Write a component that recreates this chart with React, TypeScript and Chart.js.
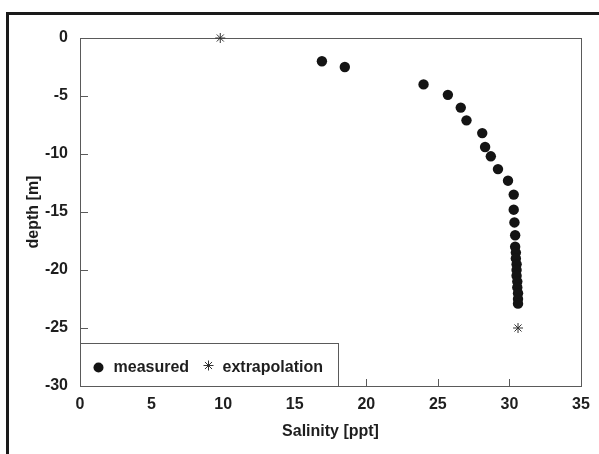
import React, { useEffect, useRef } from "react";
import { Chart, registerables } from "chart.js";

Chart.register(...registerables);

const measuredSalinity = [16.9, 18.5, 24.0, 25.7, 26.6, 27.0, 28.1, 28.3, 28.7, 29.2, 29.9, 30.3, 30.3, 30.35, 30.4, 30.4, 30.45, 30.45, 30.5, 30.5, 30.5, 30.55, 30.55, 30.6, 30.6, 30.6];
const measuredDepth = [-2.0, -2.5, -4.0, -4.9, -6.0, -7.1, -8.2, -9.4, -10.2, -11.3, -12.3, -13.5, -14.8, -15.9, -17.0, -18.0, -18.5, -19.0, -19.5, -20.0, -20.5, -21.0, -21.5, -22.0, -22.5, -22.9];
const extrapSalinity = [9.8, 30.6];
const extrapDepth = [0, -25];
const xTicks = [0, 5, 10, 15, 20, 25, 30, 35];
const yTicks = [0, -5, -10, -15, -20, -25, -30];
const seriesLabels = ["measured", "extrapolation"];
const xTitle = "Salinity [ppt]";
const yTitle = "depth [m]";

const FONT = "'Liberation Sans', Arial, Helvetica, sans-serif";
const INK = "#1e1e1e";
const LINE = "#5a5a5a";

export default function App() {
  const ref = useRef<HTMLCanvasElement>(null);

  useEffect(() => {
    document.body.style.margin = "0";
    const canvas = ref.current;
    if (!canvas) return;

    const framePlugin = {
      id: "frame",
      beforeDraw(chart: any) {
        const ctx = chart.ctx;
        ctx.save();
        ctx.fillStyle = "#ffffff";
        ctx.fillRect(0, 0, chart.width, chart.height);
        ctx.strokeStyle = "#1a1a1a";
        ctx.lineWidth = 3;
        ctx.beginPath();
        ctx.moveTo(7.5, chart.height);
        ctx.lineTo(7.5, 13.5);
        ctx.lineTo(chart.width, 13.5);
        ctx.stroke();
        ctx.restore();
      },
      beforeDatasetsDraw(chart: any) {
        const ctx = chart.ctx;
        const a = chart.chartArea;
        const xs = chart.scales.x;
        const ys = chart.scales.y;
        ctx.save();
        ctx.strokeStyle = LINE;
        ctx.lineWidth = 1;
        ctx.strokeRect(Math.round(a.left) + 0.5, Math.round(a.top) + 0.5, Math.round(a.right - a.left), Math.round(a.bottom - a.top));
        ctx.beginPath();
        xTicks.forEach((v) => {
          const px = Math.round(xs.getPixelForValue(v)) + 0.5;
          ctx.moveTo(px, a.bottom);
          ctx.lineTo(px, a.bottom - 7);
        });
        yTicks.forEach((v) => {
          const py = Math.round(ys.getPixelForValue(v)) + 0.5;
          ctx.moveTo(a.left, py);
          ctx.lineTo(a.left + 8, py);
        });
        ctx.stroke();
        ctx.restore();
      },
      afterDatasetsDraw(chart: any) {
        const ctx = chart.ctx;
        const a = chart.chartArea;
        const boxW = 258;
        const boxH = 43;
        const left = Math.round(a.left) + 0.5;
        const top = Math.round(a.bottom - boxH) + 0.5;
        ctx.save();
        ctx.fillStyle = "#ffffff";
        ctx.fillRect(left, top, boxW, boxH);
        ctx.strokeStyle = LINE;
        ctx.lineWidth = 1;
        ctx.strokeRect(left, top, boxW, boxH);
        const cy = top + 24;
        const ds0 = chart.data.datasets[0];
        const ds1 = chart.data.datasets[1];
        // measured symbol
        ctx.fillStyle = ds0.backgroundColor;
        ctx.beginPath();
        ctx.arc(left + 18, cy, 5, 0, Math.PI * 2);
        ctx.fill();
        // star symbol
        ctx.strokeStyle = ds1.borderColor;
        ctx.lineWidth = 1;
        const sx = left + 128;
        const r = 5;
        ctx.beginPath();
        for (let i = 0; i < 4; i++) {
          const ang = (i * Math.PI) / 4;
          ctx.moveTo(sx + r * Math.cos(ang), cy - 2 + r * Math.sin(ang));
          ctx.lineTo(sx - r * Math.cos(ang), cy - 2 - r * Math.sin(ang));
        }
        ctx.stroke();
        ctx.fillStyle = INK;
        ctx.font = `bold 16px ${FONT}`;
        ctx.textBaseline = "middle";
        ctx.textAlign = "left";
        ctx.fillText(ds0.label, left + 33, cy);
        ctx.fillText(ds1.label, left + 142, cy);
        ctx.restore();
      },
    };

    const chart = new Chart(canvas, {
      type: "scatter",
      data: {
        datasets: [
          {
            label: seriesLabels[0],
            data: measuredSalinity.map((x, i) => ({ x, y: measuredDepth[i] })),
            backgroundColor: "#141414",
            borderColor: "#141414",
            pointRadius: 5.2,
            pointStyle: "circle",
            borderWidth: 0,
            clip: false,
          },
          {
            label: seriesLabels[1],
            data: extrapSalinity.map((x, i) => ({ x, y: extrapDepth[i] })),
            backgroundColor: "#333333",
            borderColor: "#333333",
            pointRadius: 5,
            pointStyle: "star",
            borderWidth: 1,
            clip: false,
          },
        ],
      },
      options: {
        animation: false,
        responsive: false,
        maintainAspectRatio: false,
        layout: { padding: { left: 0, top: 38, right: 18, bottom: 0 } },
        plugins: {
          legend: { display: false },
          tooltip: { enabled: false },
        },
        scales: {
          x: {
            type: "linear",
            min: 0,
            max: 35,
            grid: { display: false, drawTicks: false },
            border: { display: false },
            afterFit: (s: any) => {
              s.height = 68;
            },
            afterBuildTicks: (s: any) => {
              s.ticks = xTicks.map((v) => ({ value: v }));
            },
            ticks: {
              color: INK,
              padding: 9,
              font: { family: FONT, size: 16, weight: "bold" },
              maxRotation: 0,
            },
            title: {
              display: true,
              text: xTitle,
              color: INK,
              font: { family: FONT, size: 16, weight: "bold" },
              padding: { top: 0, bottom: 13 },
            },
          },
          y: {
            type: "linear",
            min: -30,
            max: 0,
            grid: { display: false, drawTicks: false },
            border: { display: false },
            afterFit: (s: any) => {
              s.width = 80;
            },
            afterBuildTicks: (s: any) => {
              s.ticks = yTicks.map((v) => ({ value: v }));
            },
            ticks: {
              color: INK,
              padding: 12,
              font: { family: FONT, size: 16, weight: "bold" },
            },
            title: {
              display: true,
              text: yTitle,
              color: INK,
              font: { family: FONT, size: 16, weight: "bold" },
              padding: { top: 24, bottom: 0 },
            },
          },
        },
      },
      plugins: [framePlugin],
    });

    return () => chart.destroy();
  }, []);

  return (
    <div style={{ position: "absolute", left: 0, top: 0, width: 599, height: 454 }}>
      <canvas ref={ref} width={599} height={454} style={{ width: 599, height: 454, display: "block" }} />
    </div>
  );
}
